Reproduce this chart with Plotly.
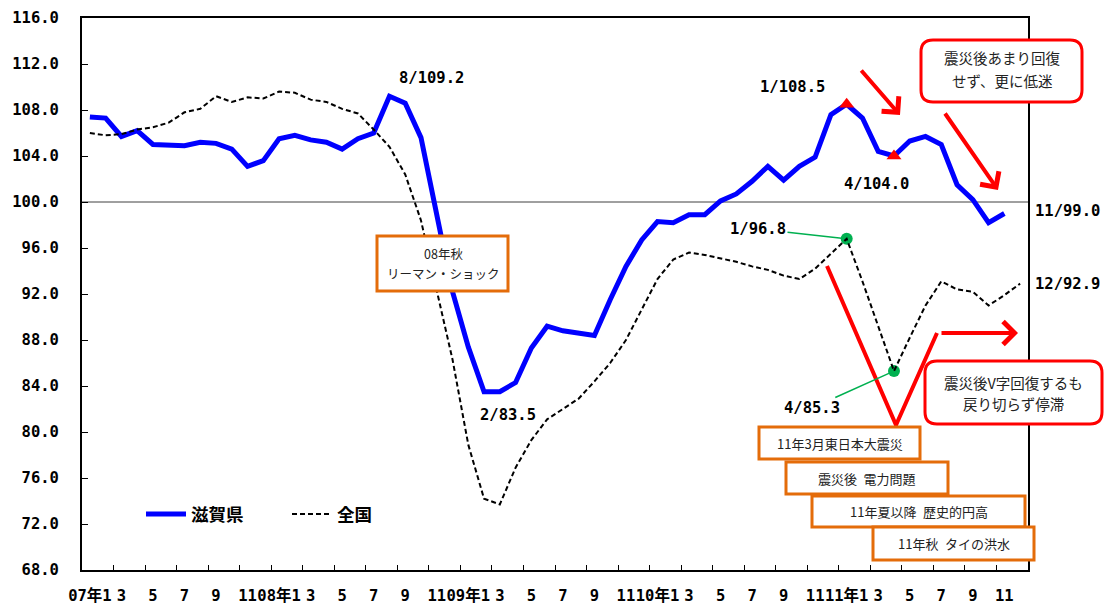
import plotly.graph_objects as go

# ---------------- data ----------------
tick_labels = ["07年1", "3", "5", "7", "9", "11",
               "08年1", "3", "5", "7", "9", "11",
               "09年1", "3", "5", "7", "9", "11",
               "10年1", "3", "5", "7", "9", "11",
               "11年1", "3", "5", "7", "9", "11"]

shiga = [107.4, 107.3, 105.7, 106.2, 105.0, 105.0, 104.9, 105.2, 105.1, 104.6, 103.1, 103.6,
         105.5, 105.8, 105.4, 105.2, 104.6, 105.5, 106.0, 109.2, 108.6, 105.6, 98.8, 92.2,
         87.4, 83.5, 83.5, 84.3, 87.3, 89.2, 88.8, 88.6, 88.4, 91.5, 94.4, 96.7,
         98.3, 98.2, 98.9, 98.9, 100.1, 100.7, 101.8, 103.1, 101.9, 103.1, 103.9, 107.6,
         108.5, 107.3, 104.4, 104.0, 105.3, 105.7, 105.0, 101.5, 100.2, 98.2, 99.0, None]

zenkoku = [106.0, 105.8, 105.9, 106.3, 106.5, 106.9, 107.8, 108.1, 109.2, 108.7, 109.1, 109.0,
           109.6, 109.5, 108.9, 108.7, 108.1, 107.7, 106.3, 104.8, 102.4, 98.4, 92.3, 86.3,
           78.9, 74.2, 73.7, 76.9, 79.3, 81.1, 82.0, 82.9, 84.4, 86.0, 88.0, 90.7,
           93.3, 95.0, 95.6, 95.4, 95.1, 94.8, 94.4, 94.1, 93.6, 93.3, 94.2, 95.5,
           96.8, 93.1, 89.1, 85.3, 88.2, 91.0, 93.1, 92.4, 92.2, 91.0, 91.9, 92.9]

months = list(range(len(zenkoku)))
tri_idx = [48, 51]     # 滋賀県 markers (1/108.5, 4/104.0)
dot_idx = [48, 51]     # 全国 markers (1/96.8, 4/85.3)

# ---------------- layout helpers (pixel -> paper) ----------------
W, H = 1104, 606
L, R, T, B = 82, 76, 18, 36
PW, PH = W - L - R, H - T - B


def pxx(x):
    return (x - L) / PW


def pxy(y):
    return (H - B - y) / PH


NUM_FONT = "DejaVu Sans Mono, Noto Sans CJK JP"
JP_FONT = "Noto Sans CJK JP"

fig = go.Figure()

fig.add_trace(go.Scatter(x=months, y=shiga, name="滋賀県", mode="lines",
                         line=dict(color="#0000FF", width=5)))
fig.add_trace(go.Scatter(x=months, y=zenkoku, name="全国", mode="lines", xaxis="x2",
                         line=dict(color="black", width=2, dash="5px,3px")))
fig.add_trace(go.Scatter(x=tri_idx, y=[shiga[i] for i in tri_idx], mode="markers",
                         marker=dict(symbol="triangle-up", size=13, color="#FF0000"),
                         showlegend=False, hoverinfo="skip"))
fig.add_trace(go.Scatter(x=dot_idx, y=[zenkoku[i] for i in dot_idx], mode="markers",
                         marker=dict(symbol="circle", size=12, color="#00B050"),
                         showlegend=False, hoverinfo="skip"))

shapes = []
# reference line at 100
shapes.append(dict(type="line", xref="paper", x0=0, x1=1, yref="y", y0=100, y1=100,
                   line=dict(color="#404040", width=1), layer="below"))


def rrect(x0, y0, x1, y1, r):
    rx, ry = r / PW, r / PH
    a0, a1, b0, b1 = pxx(x0), pxx(x1), pxy(y0), pxy(y1)
    return (f"M{a0+rx},{b0} L{a1-rx},{b0} Q{a1},{b0} {a1},{b0-ry} "
            f"L{a1},{b1+ry} Q{a1},{b1} {a1-rx},{b1} L{a0+rx},{b1} "
            f"Q{a0},{b1} {a0},{b1+ry} L{a0},{b0-ry} Q{a0},{b0} {a0+rx},{b0} Z")


RED = "#FF0000"
ORANGE = "#E46C0A"

# red V line
shapes.append(dict(type="path", xref="paper", yref="paper",
                   path=f"M{pxx(827)},{pxy(266)} L{pxx(896)},{pxy(425)} L{pxx(937)},{pxy(333)}",
                   line=dict(color=RED, width=4), layer="above"))

# orange boxes
for (x0, y0, x1, y1) in [(377, 236, 508, 291), (759, 427, 920, 459), (786, 462, 948, 494),
                         (812, 496, 1025, 527), (873, 527, 1034, 560)]:
    shapes.append(dict(type="rect", xref="paper", yref="paper",
                       x0=pxx(x0), x1=pxx(x1), y0=pxy(y1), y1=pxy(y0),
                       line=dict(color=ORANGE, width=3), fillcolor="white", layer="above"))

# red rounded boxes
for (x0, y0, x1, y1) in [(921, 40, 1082, 102), (925, 361, 1102, 424)]:
    shapes.append(dict(type="path", xref="paper", yref="paper", path=rrect(x0, y0, x1, y1, 12),
                       line=dict(color=RED, width=3), fillcolor="white", layer="above"))

ann = []
numf = dict(family=NUM_FONT, size=15.5, color="black", weight="bold")


def pt(i, v):
    return L + (i + 0.5) * PW / 60, T + (116 - v) * PH / 48


def label(i, series, text, cx, cy, anchor="center"):
    x0, y0 = pt(i, series[i])
    ann.append(dict(x=i, y=series[i], xref="x", yref="y", text=text, showarrow=False,
                    xanchor=anchor, yanchor="middle",
                    xshift=cx - x0, yshift=y0 - cy, font=numf))


label(19, shiga, "8/109.2", 431, 78)
label(25, shiga, "2/83.5", 508, 415)
label(48, shiga, "1/108.5", 793, 87)
label(51, shiga, "4/104.0", 877, 184)
label(58, shiga, "11/99.0", 1033, 211, anchor="left")
label(59, zenkoku, "12/92.9", 1033, 284, anchor="left")

# green leader labels
for i, text, cx, cy in [(48, "1/96.8", 758, 229), (51, "4/85.3", 812, 408)]:
    x0, y0 = pt(i, zenkoku[i])
    ann.append(dict(x=i, y=zenkoku[i], xref="x", yref="y", text=text, showarrow=True,
                    ax=cx - x0, ay=cy - y0, arrowhead=0, arrowwidth=1.5,
                    arrowcolor="#00B050", standoff=5, font=numf))

# red arrows
for (hx, hy, tx, ty) in [(900, 115, 860, 69), (998, 190, 944, 112), (1018, 333, 940, 333)]:
    ann.append(dict(x=pxx(hx), y=pxy(hy), xref="paper", yref="paper", text="",
                    showarrow=True, ax=tx - hx, ay=ty - hy, arrowhead=4, arrowsize=1.1,
                    arrowwidth=4, arrowcolor=RED))

# box texts
boxf = dict(family=JP_FONT, size=13, color="#222222")
redf = dict(family=JP_FONT, size=14.5, color="#222222")
for text, cx, cy, f in [("08年秋", 443, 253, dict(boxf, size=12.5)),
                        ("リーマン・ショック", 443, 273, dict(boxf, size=12.5)),
                        ("11年3月東日本大震災", 839.5, 443, boxf),
                        ("震災後\u2002電力問題", 867, 478, boxf),
                        ("11年夏以降\u2002歴史的円高", 918.5, 511.5, boxf),
                        ("11年秋\u2002タイの洪水", 953.5, 543.5, boxf),
                        ("震災後あまり回復", 1001.5, 58, redf),
                        ("せず、更に低迷", 1001.5, 80, redf),
                        ("震災後V字回復するも", 1013.5, 382, redf),
                        ("戻り切らず停滞", 1013.5, 403, redf)]:
    ann.append(dict(x=pxx(cx), y=pxy(cy), xref="paper", yref="paper", text=text,
                    showarrow=False, xanchor="center", yanchor="middle", font=f))

fig.update_layout(
    width=W, height=H,
    margin=dict(l=L, r=R, t=T, b=B, autoexpand=False),
    paper_bgcolor="white", plot_bgcolor="white",
    shapes=shapes, annotations=ann,
    showlegend=True,
    legend=dict(orientation="h", x=pxx(141), y=pxy(514), xanchor="left", yanchor="middle",
                font=dict(family=JP_FONT, size=17.5, color="black", weight="bold"),
                bgcolor="rgba(0,0,0,0)", entrywidth=91, entrywidthmode="pixels",
                itemwidth=40, itemclick=False, itemdoubleclick=False),
    xaxis=dict(range=[-0.5, 59.5], showgrid=False, zeroline=False, automargin=False,
               tickmode="array", tickvals=months[::2], ticktext=tick_labels, tickangle=0,
               ticks="", showline=True, linecolor="black", linewidth=2, mirror=True,
               tickfont=numf, ticklabelstandoff=10),
    # overlay axis carrying only the category-boundary tick marks
    xaxis2=dict(overlaying="x", matches="x", anchor="y", side="bottom",
                showgrid=False, zeroline=False, automargin=False, showline=False,
                tickmode="array", tickvals=[m + 1.5 for m in months[::2][:-1]],
                showticklabels=False, ticks="inside", ticklen=5, tickwidth=1.2,
                tickcolor="black"),
    yaxis=dict(range=[68, 116], showgrid=False, zeroline=False, automargin=False,
               tickmode="linear", tick0=68, dtick=4, tickformat=".1f",
               ticks="inside", ticklen=6, tickwidth=1.2, tickcolor="black",
               showline=True, linecolor="black", linewidth=2, mirror=True,
               tickfont=numf, ticklabelstandoff=18),
)

fig.write_html("out.html")
